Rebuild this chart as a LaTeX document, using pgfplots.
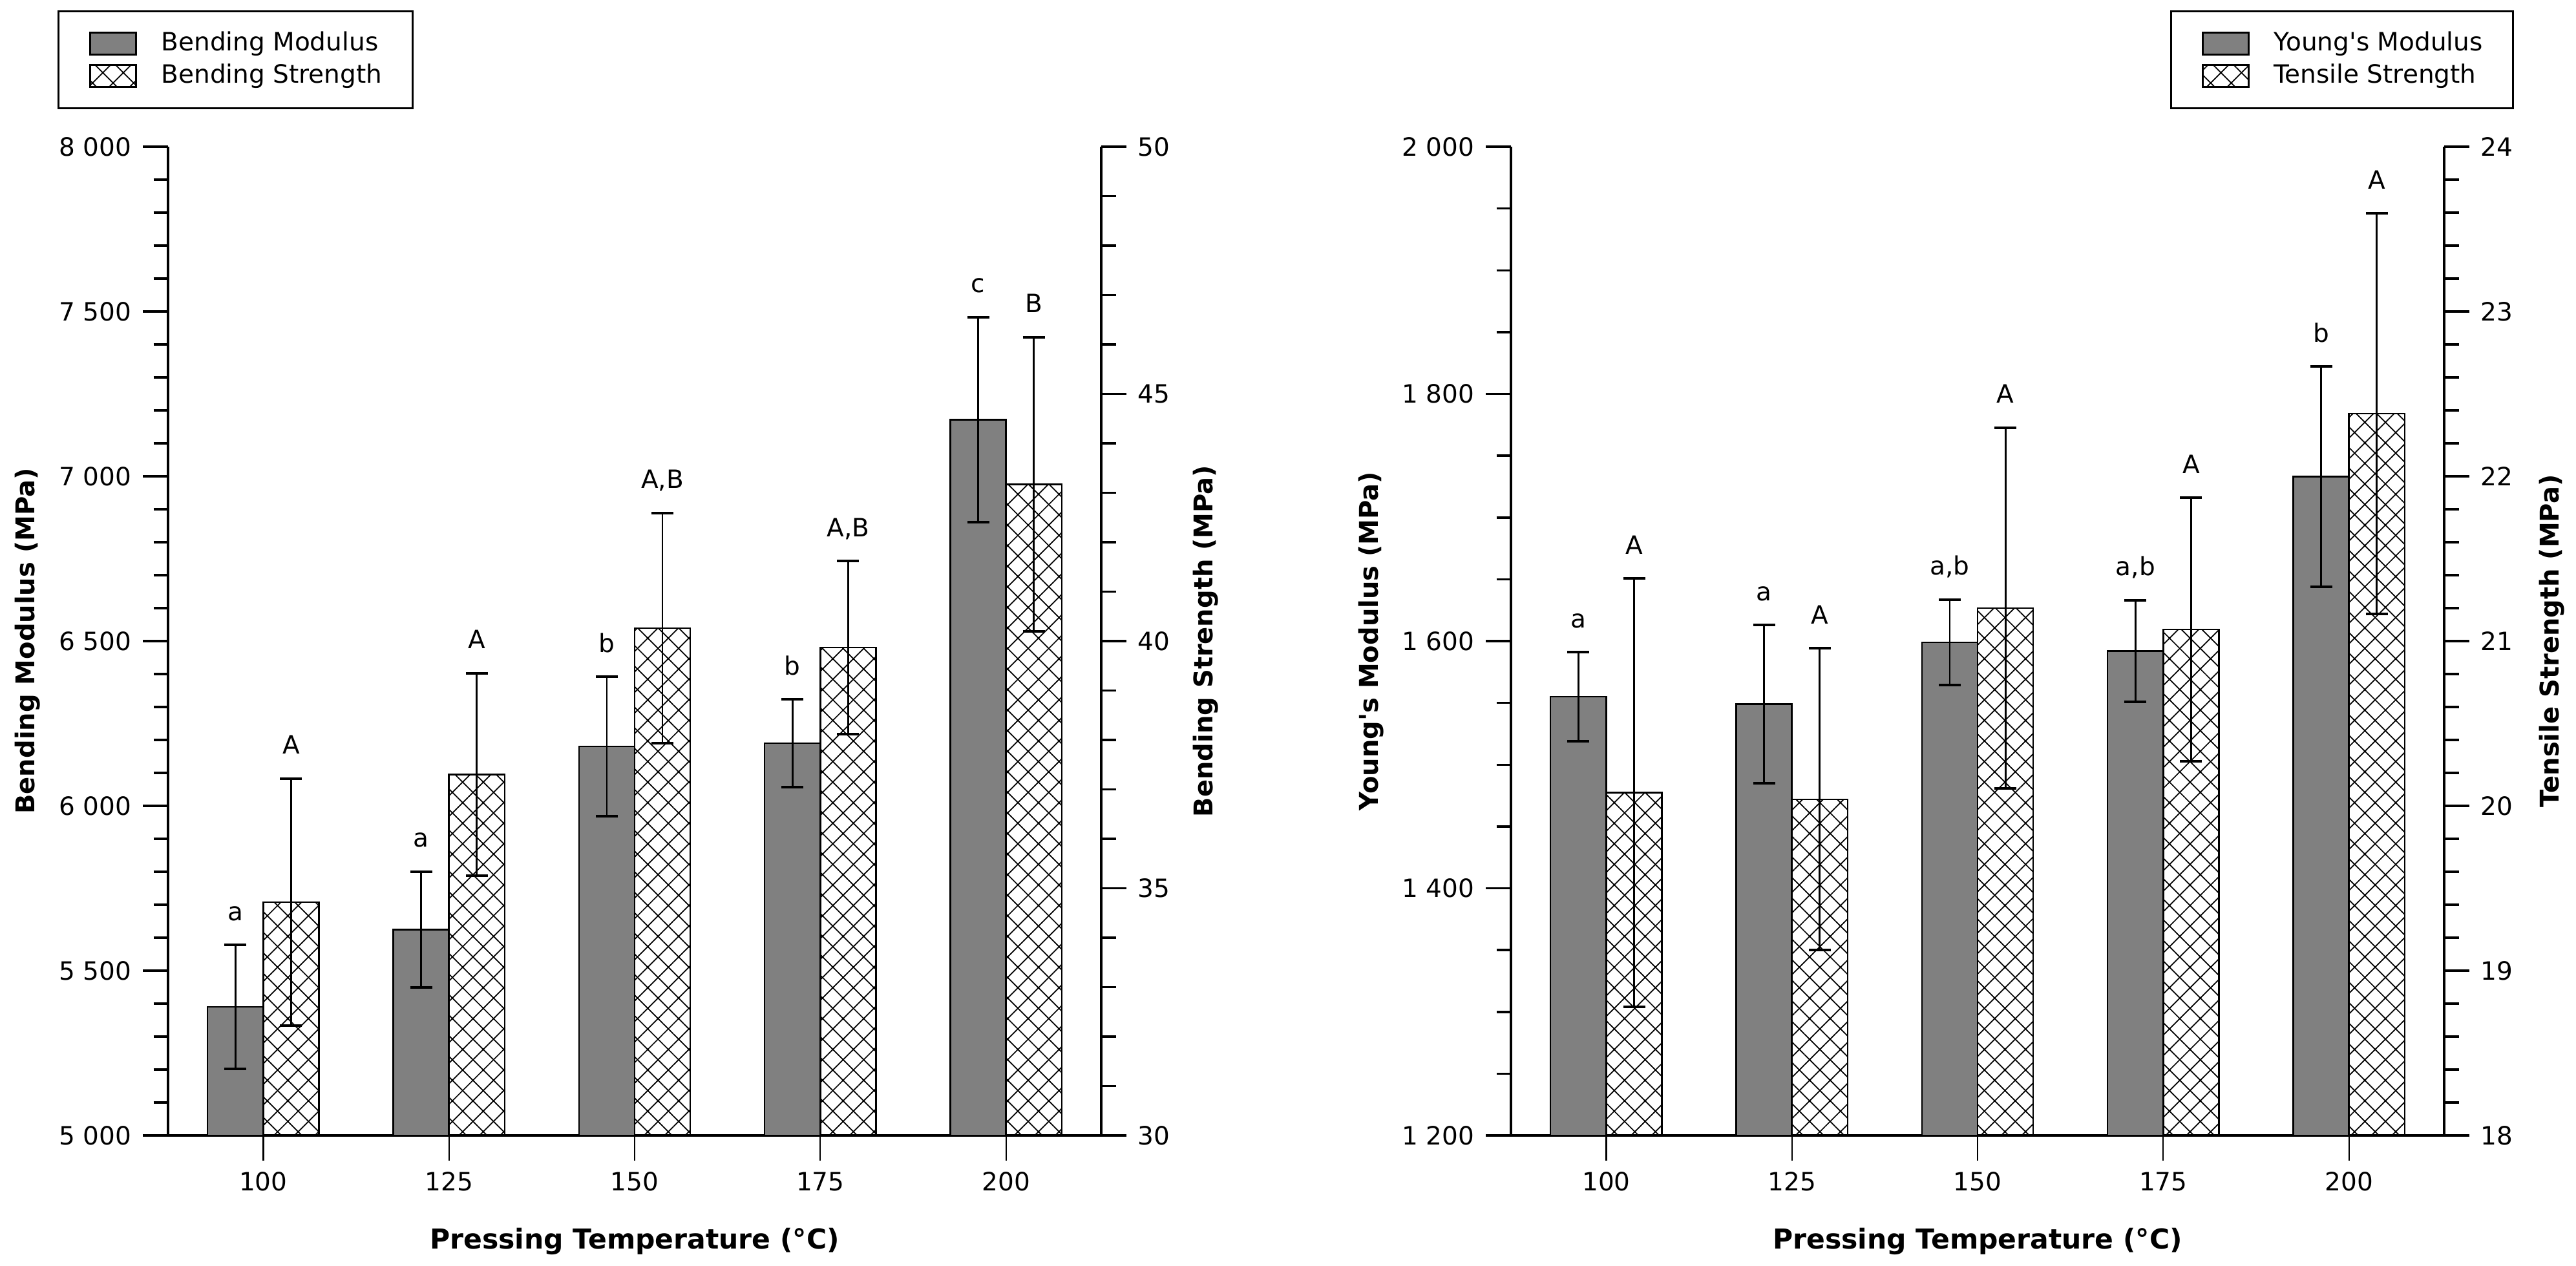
\documentclass[border=0pt]{standalone}
\usepackage{pgfplots}
\pgfplotsset{compat=1.18}
\usepackage{pgfplotstable}
\usepackage{fontspec}
\setmainfont{DejaVu Sans}
\usetikzlibrary{patterns.meta}

% Bending data: category, left bar x, right bar x, modulus, sd, strength, sd
\pgfplotstableread{
x xl xr bm bmsd bs bssd
0 -0.15 0.15 5390 188 34.72 2.50
1 0.85 1.15 5625 176 37.30 2.05
2 1.85 2.15 6180 212 40.26 2.33
3 2.85 3.15 6190 133 39.87 1.75
4 3.85 4.15 7172 311 43.17 2.98
}\bendtab
\pgfplotstableread{
x y lab
-0.15 5578 a
0.85 5801 a
1.85 6392 b
2.85 6323 b
3.85 7483 c
}\bmlab
\pgfplotstableread{
x y lab
0.15 37.22 A
1.15 39.35 A
2.15 42.59 A,B
3.15 41.62 A,B
4.15 46.15 B
}\bslab
% Tensile data
\pgfplotstableread{
x xl xr ym ymsd ts tssd
0 -0.15 0.15 1555 36 20.08 1.30
1 0.85 1.15 1549 64 20.04 0.915
2 1.85 2.15 1599 34.5 21.20 1.095
3 2.85 3.15 1592 41 21.07 0.80
4 3.85 4.15 1733 89 22.38 1.215
}\tenstab
\pgfplotstableread{
x y lab
-0.15 1591 a
0.85 1613 a
1.85 1633.5 a,b
2.85 1633 a,b
3.85 1822 b
}\ymlab
\pgfplotstableread{
x y lab
0.15 21.38 A
1.15 20.955 A
2.15 22.295 A
3.15 21.87 A
4.15 23.595 A
}\tslab

\pgfplotsset{
  common/.style={
    scale only axis, width=288.8pt, height=306pt,
    xmin=-0.513, xmax=4.513, clip=true,
    tick align=outside, major tick length=7.8pt, minor tick length=4.5pt,
    axis line style={line width=0.7pt, black},
    tick style={line width=0.7pt, black},
    xtick style={line width=0.45pt},
    font=\fontsize{7.8}{9.4}\selectfont,
    xlabel style={font=\fontsize{8.5}{10}\selectfont\bfseries},
    ylabel style={font=\fontsize{8.0}{10}\selectfont\bfseries},
    /pgf/number format/.cd, 1000 sep={\ }, assume math mode=true
  },
  barleg/.style={legend image code/.code={\draw[##1, line width=0.6pt] (0pt,-3.4pt) rectangle (14.2pt,3.4pt);}},
  graybar/.style={ybar, bar width=0.3, bar shift=0, fill=gray, draw=black, line width=0.5pt, barleg},
  hatchbar/.style={ybar, bar width=0.3, bar shift=0, draw=black, line width=0.5pt,
    pattern={Hatch[angle=45, distance=4.5pt, line width=0.35pt]}, pattern color=black, barleg},
  errs/.style={error bars/.cd, y dir=both, y explicit,
    error bar style={line width=0.55pt, black},
    error mark options={rotate=90, mark size=3.4pt, line width=0.8pt, black}},
  lab/.style={draw=none, mark=none, nodes near coords, point meta=explicit symbolic,
    nodes near coords style={anchor=base, yshift=7.6pt, inner sep=0pt, font=\fontsize{7.8}{9.4}\selectfont}},
  legsty/.style={legend cell align=left,
    legend style={draw=black, line width=0.6pt, inner xsep=9.4pt, inner ysep=6.3pt,
      row sep=2.5pt, nodes={inner sep=0pt, anchor=west},
      font=\fontsize{7.8}{9.4}\selectfont,
      /tikz/every odd column/.append style={column sep=7.6pt}}},
}

\begin{document}
\begin{tikzpicture}
\useasboundingbox (0,0) rectangle (797.2pt,391.6pt);

% ---------- Left chart ----------
\begin{axis}[common, at={(52pt,40.2pt)}, anchor=south west,
  axis y line*=left, axis x line*=bottom,
  ymin=5000, ymax=8000, ytick={5000,5500,...,8000}, minor y tick num=4,
  xtick={0,1,2,3,4}, xticklabels={100,125,150,175,200},
  xlabel={Pressing Temperature (°C)}, ylabel={Bending Modulus (MPa)},
  xlabel style={at={(axis description cs:0.5,0)}, anchor=base, yshift=-35pt},
  ylabel style={at={(axis description cs:-0.1503,0.5)}, anchor=center},
]
\addplot[graybar, errs] table[x=xl, y=bm, y error=bmsd] {\bendtab};
\addplot[lab] table[x=x, y=y, meta=lab] {\bmlab};
\end{axis}

\begin{axis}[common, at={(52pt,40.2pt)}, anchor=south west,
  axis y line*=right, axis x line=none, xtick=\empty,
  ymin=30, ymax=50, ytick={30,35,...,50}, minor y tick num=4,
  ylabel={Bending Strength (MPa)},
  ylabel style={at={(axis description cs:1.112,0.5)}, anchor=center},
  legsty, legend style={at={(axis description cs:-0.1184,1.1379)}, anchor=north west},
]
\addlegendimage{graybar}
\addlegendentry{Bending Modulus}
\addplot[hatchbar, errs] table[x=xr, y=bs, y error=bssd] {\bendtab};
\addlegendentry{Bending Strength}
\addplot[lab] table[x=x, y=y, meta=lab] {\bslab};
\end{axis}

% ---------- Right chart ----------
\begin{axis}[common, at={(467.6pt,40.2pt)}, anchor=south west,
  axis y line*=left, axis x line*=bottom,
  ymin=1200, ymax=2000, ytick={1200,1400,...,2000}, minor y tick num=3,
  xtick={0,1,2,3,4}, xticklabels={100,125,150,175,200},
  xlabel={Pressing Temperature (°C)}, ylabel={Young\textquotesingle s Modulus (MPa)},
  xlabel style={at={(axis description cs:0.5,0)}, anchor=base, yshift=-35pt},
  ylabel style={at={(axis description cs:-0.150,0.5)}, anchor=center},
]
\addplot[graybar, errs] table[x=xl, y=ym, y error=ymsd] {\tenstab};
\addplot[lab] table[x=x, y=y, meta=lab] {\ymlab};
\end{axis}

\begin{axis}[common, at={(467.6pt,40.2pt)}, anchor=south west,
  axis y line*=right, axis x line=none, xtick=\empty,
  ymin=18, ymax=24, ytick={18,19,...,24}, minor y tick num=4,
  ylabel={Tensile Strength (MPa)},
  ylabel style={at={(axis description cs:1.115,0.5)}, anchor=center},
  legsty, legend style={at={(axis description cs:1.0748,1.1379)}, anchor=north east},
]
\addlegendimage{graybar}
\addlegendentry{Young\textquotesingle s Modulus}
\addplot[hatchbar, errs] table[x=xr, y=ts, y error=tssd] {\tenstab};
\addlegendentry{Tensile Strength}
\addplot[lab] table[x=x, y=y, meta=lab] {\tslab};
\end{axis}
\end{tikzpicture}
\end{document}
